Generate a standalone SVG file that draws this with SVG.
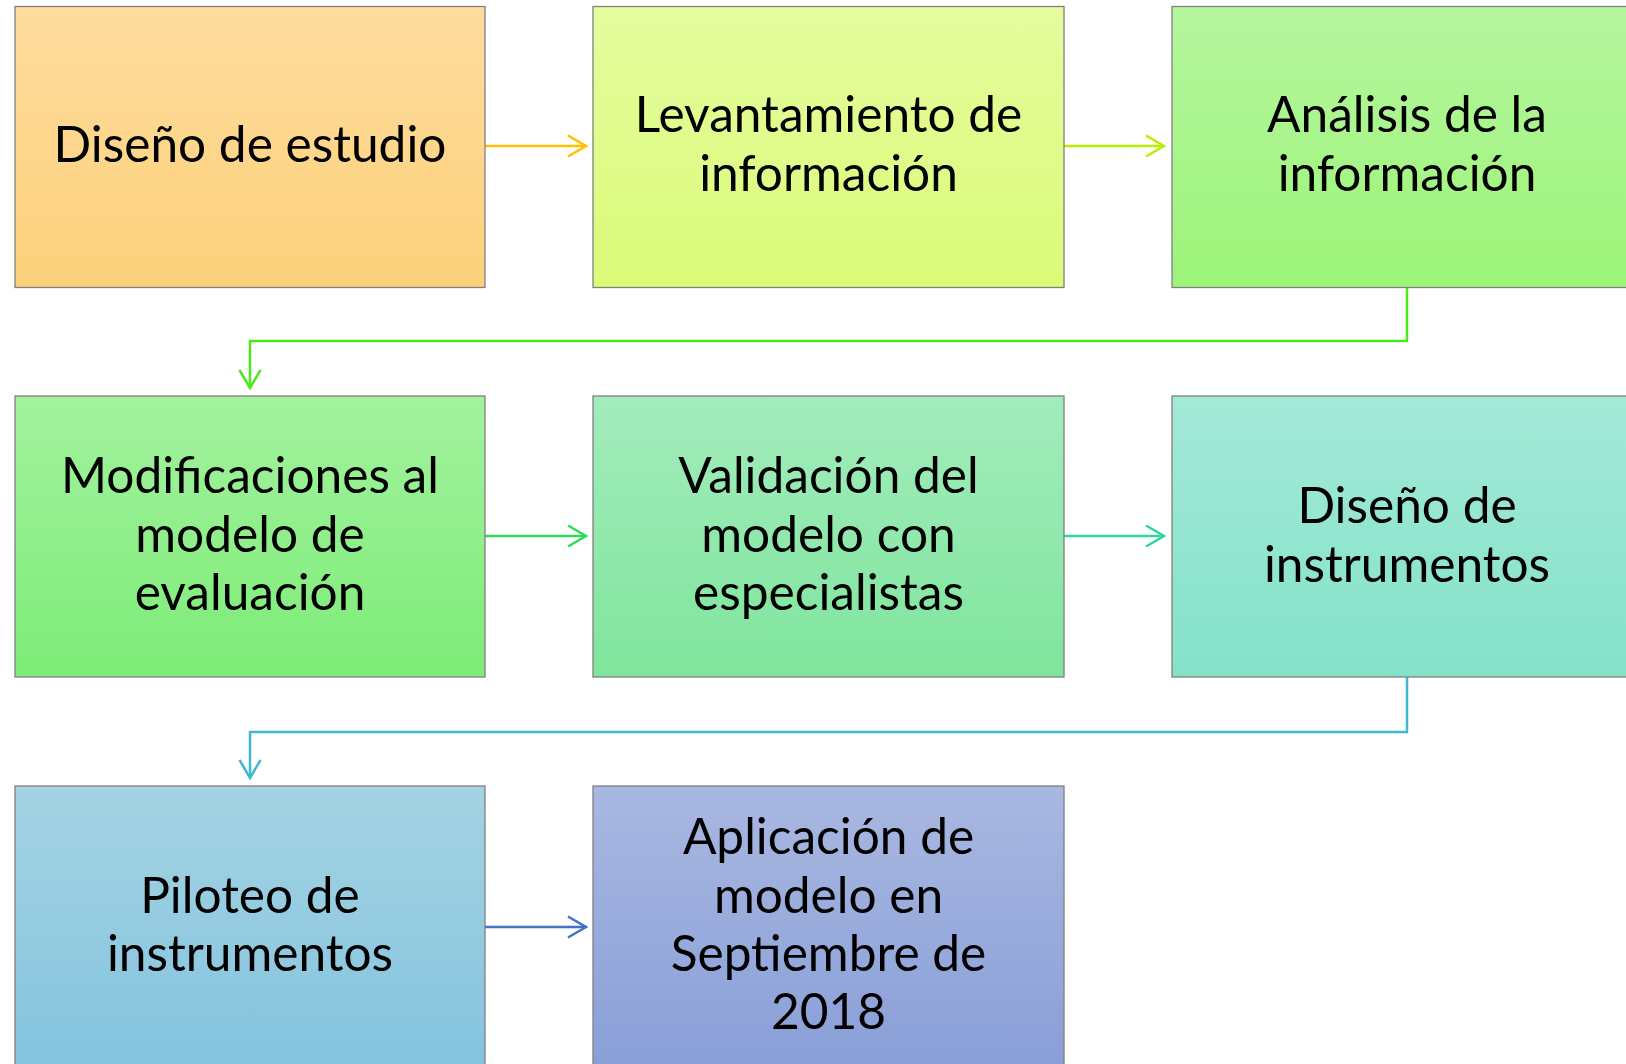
<svg xmlns="http://www.w3.org/2000/svg" width="1626" height="1064" viewBox="0 0 1626 1064">
<style>
.box{stroke:#808080;stroke-width:1.3}
.lbl{font-family:Lato,"Liberation Sans",sans-serif;font-size:49.6px;fill:#000;text-anchor:middle}
.con{fill:none;stroke-width:2.5}
</style>
<defs>
<linearGradient id="g1" x1="0" y1="0" x2="0" y2="1"><stop offset="0" stop-color="#FEDC9E"/><stop offset="1" stop-color="#FDD17B"/></linearGradient>
<linearGradient id="g2" x1="0" y1="0" x2="0" y2="1"><stop offset="0" stop-color="#E6FC9E"/><stop offset="1" stop-color="#DBFB78"/></linearGradient>
<linearGradient id="g3" x1="0" y1="0" x2="0" y2="1"><stop offset="0" stop-color="#B5F69E"/><stop offset="1" stop-color="#9CF478"/></linearGradient>
<linearGradient id="g4" x1="0" y1="0" x2="0" y2="1"><stop offset="0" stop-color="#A3F29E"/><stop offset="1" stop-color="#7DEC78"/></linearGradient>
<linearGradient id="g5" x1="0" y1="0" x2="0" y2="1"><stop offset="0" stop-color="#A3ECBD"/><stop offset="1" stop-color="#7FE59C"/></linearGradient>
<linearGradient id="g6" x1="0" y1="0" x2="0" y2="1"><stop offset="0" stop-color="#A3E9D7"/><stop offset="1" stop-color="#84E2C9"/></linearGradient>
<linearGradient id="g7" x1="0" y1="0" x2="0" y2="1"><stop offset="0" stop-color="#A4D3E3"/><stop offset="1" stop-color="#83C3DE"/></linearGradient>
<linearGradient id="g8" x1="0" y1="0" x2="0" y2="1"><stop offset="0" stop-color="#A9B8E1"/><stop offset="1" stop-color="#889ED7"/></linearGradient>
<marker id="a1" markerUnits="userSpaceOnUse" markerWidth="24" markerHeight="26" viewBox="-21 -13 24 26" refX="0" refY="0" orient="auto"><path d="M-18,-10.5 L0,0 L-18,10.5" fill="none" stroke="#FFC000" stroke-width="2.5"/></marker>
<marker id="a2" markerUnits="userSpaceOnUse" markerWidth="24" markerHeight="26" viewBox="-21 -13 24 26" refX="0" refY="0" orient="auto"><path d="M-18,-10.5 L0,0 L-18,10.5" fill="none" stroke="#B8F000" stroke-width="2.5"/></marker>
<marker id="a3" markerUnits="userSpaceOnUse" markerWidth="24" markerHeight="26" viewBox="-21 -13 24 26" refX="0" refY="0" orient="auto"><path d="M-18,-10.5 L0,0 L-18,10.5" fill="none" stroke="#4CE81C" stroke-width="2.5"/></marker>
<marker id="a4" markerUnits="userSpaceOnUse" markerWidth="24" markerHeight="26" viewBox="-21 -13 24 26" refX="0" refY="0" orient="auto"><path d="M-18,-10.5 L0,0 L-18,10.5" fill="none" stroke="#2ED95C" stroke-width="2.5"/></marker>
<marker id="a5" markerUnits="userSpaceOnUse" markerWidth="24" markerHeight="26" viewBox="-21 -13 24 26" refX="0" refY="0" orient="auto"><path d="M-18,-10.5 L0,0 L-18,10.5" fill="none" stroke="#2ED6A0" stroke-width="2.5"/></marker>
<marker id="a6" markerUnits="userSpaceOnUse" markerWidth="24" markerHeight="26" viewBox="-21 -13 24 26" refX="0" refY="0" orient="auto"><path d="M-18,-10.5 L0,0 L-18,10.5" fill="none" stroke="#40B8D4" stroke-width="2.5"/></marker>
<marker id="a7" markerUnits="userSpaceOnUse" markerWidth="24" markerHeight="26" viewBox="-21 -13 24 26" refX="0" refY="0" orient="auto"><path d="M-18,-10.5 L0,0 L-18,10.5" fill="none" stroke="#4472C4" stroke-width="2.5"/></marker>
</defs>
<rect width="1626" height="1064" fill="#fff"/>
<g id="connectors">
<path class="con" stroke="#FFC000" d="M485,146 H586" marker-end="url(#a1)"/>
<path class="con" stroke="#B8F000" d="M1064,146 H1164" marker-end="url(#a2)"/>
<path class="con" stroke="#4CE81C" d="M1407,287 V341 H250 V388" marker-end="url(#a3)"/>
<path class="con" stroke="#2ED95C" d="M485,536 H586" marker-end="url(#a4)"/>
<path class="con" stroke="#2ED6A0" d="M1064,536 H1164" marker-end="url(#a5)"/>
<path class="con" stroke="#40B8D4" d="M1407,677 V732 H250 V778" marker-end="url(#a6)"/>
<path class="con" stroke="#4472C4" d="M485,927 H586" marker-end="url(#a7)"/>
</g>
<g id="n1"><rect class="box" x="15" y="6.5" width="470" height="281" fill="url(#g1)"/><text class="lbl" x="250" y="162">Diseño de estudio</text></g>
<g id="n2"><rect class="box" x="593" y="6.5" width="471" height="281" fill="url(#g2)"/><text class="lbl" x="828.5" y="132">Levantamiento de</text><text class="lbl" x="828.5" y="191">información</text></g>
<g id="n3"><rect class="box" x="1172" y="6.5" width="470" height="281" fill="url(#g3)"/><text class="lbl" x="1407" y="132">Análisis de la</text><text class="lbl" x="1407" y="191">información</text></g>
<g id="n4"><rect class="box" x="15" y="396" width="470" height="281" fill="url(#g4)"/><text class="lbl" x="250" y="493">Modificaciones al</text><text class="lbl" x="250" y="552">modelo de</text><text class="lbl" x="250" y="610">evaluación</text></g>
<g id="n5"><rect class="box" x="593" y="396" width="471" height="281" fill="url(#g5)"/><text class="lbl" x="828.5" y="493">Validación del</text><text class="lbl" x="828.5" y="552">modelo con</text><text class="lbl" x="828.5" y="610">especialistas</text></g>
<g id="n6"><rect class="box" x="1172" y="396" width="470" height="281" fill="url(#g6)"/><text class="lbl" x="1407" y="523">Diseño de</text><text class="lbl" x="1407" y="582">instrumentos</text></g>
<g id="n7"><rect class="box" x="15" y="786" width="470" height="290" fill="url(#g7)"/><text class="lbl" x="250" y="913">Piloteo de</text><text class="lbl" x="250" y="971">instrumentos</text></g>
<g id="n8"><rect class="box" x="593" y="786" width="471" height="290" fill="url(#g8)"/><text class="lbl" x="828.5" y="854">Aplicación de</text><text class="lbl" x="828.5" y="913">modelo en</text><text class="lbl" x="828.5" y="971">Septiembre de</text><text class="lbl" x="828.5" y="1029">2018</text></g>
</svg>
